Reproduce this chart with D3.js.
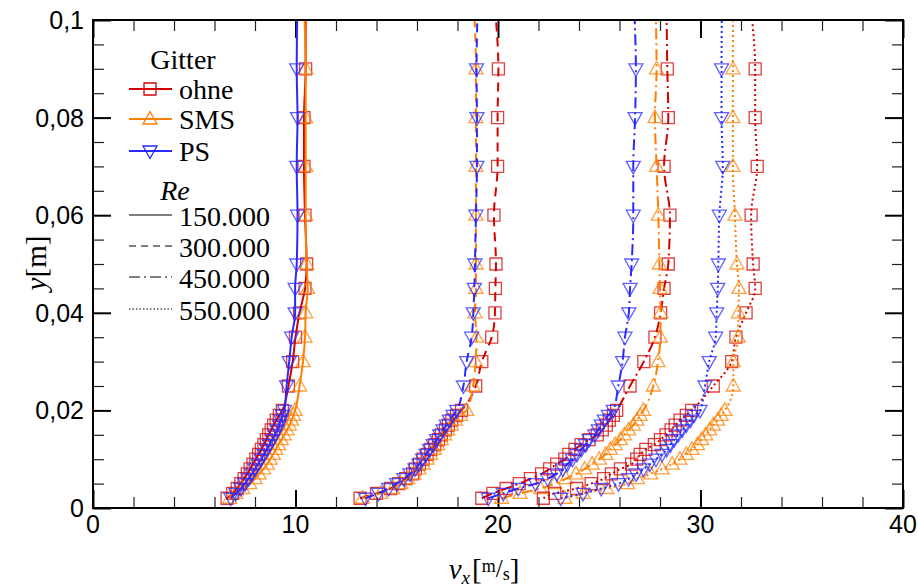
<!DOCTYPE html>
<html>
<head>
<meta charset="utf-8">
<script src="https://cdn.jsdelivr.net/npm/d3@7"></script>
<style>
  body { margin: 0; background: #fff; }
</style>
</head>
<body>
<div id="chart"></div>
<script>
// wall distance y [m] of the profile points (last point only carries the line)
const yPos = [0.002, 0.003, 0.004, 0.005, 0.006, 0.007, 0.008, 0.009, 0.010, 0.011,
  0.012, 0.013, 0.014, 0.015, 0.016, 0.017, 0.018, 0.019, 0.020,
  0.025, 0.030, 0.035, 0.040, 0.045, 0.050, 0.060, 0.070, 0.080, 0.090, 0.100];

// v_x [m/s], grid "ohne"
const ohne150 = [6.62, 6.9, 7.12, 7.3, 7.46, 7.62, 7.76, 7.9, 8.04, 8.18, 8.31, 8.44, 8.56, 8.68, 8.8, 8.92, 9.05, 9.2, 9.35,
  9.65, 9.86, 10.0, 10.2, 10.47, 10.55, 10.47, 10.42, 10.42, 10.5, 10.5];
const ohne300 = [13.19, 14.0, 14.7, 15.1, 15.45, 15.78, 15.92, 16.12, 16.3, 16.5, 16.68, 16.88, 17.06, 17.2, 17.4, 17.55, 17.72, 17.95, 18.2,
  18.9, 19.2, 19.69, 19.85, 19.87, 19.9, 19.8, 19.98, 19.98, 20.02, 19.9];
const ohne450 = [19.2, 19.75, 20.4, 21.05, 21.6, 22.15, 22.55, 22.9, 23.3, 23.5, 23.8, 24.1, 24.5, 24.9, 25.15, 25.35, 25.5, 25.7, 25.86,
  26.52, 27.2, 27.75, 28.03, 28.2, 28.41, 28.49, 28.2, 28.41, 28.36, 28.33];
const ohne550 = [22.24, 22.8, 23.88, 24.6, 25.22, 25.6, 26.05, 26.6, 26.85, 27.02, 27.3, 27.72, 28.02, 28.3, 28.55, 28.75, 28.99, 29.3, 29.56,
  30.63, 31.54, 31.75, 32.25, 32.7, 32.6, 32.5, 32.8, 32.7, 32.7, 32.55];

// grid "SMS"
const sms150 = [6.75, 7.05, 7.4, 7.74, 8.0, 8.2, 8.42, 8.6, 8.75, 8.9, 9.03, 9.16, 9.3, 9.44, 9.58, 9.7, 9.8, 9.9, 9.98,
  10.2, 10.37, 10.47, 10.5, 10.6, 10.55, 10.5, 10.5, 10.5, 10.5, 10.45];
const sms300 = [13.3, 14.2, 14.8, 15.2, 15.55, 15.85, 16.1, 16.3, 16.5, 16.68, 16.85, 17.02, 17.2, 17.36, 17.52, 17.7, 17.9, 18.15, 18.45,
  18.77, 18.9, 18.94, 18.86, 18.91, 18.91, 18.91, 18.91, 18.91, 18.91, 18.85];
const sms450 = [20.18, 21.09, 22.1, 22.8, 23.35, 23.85, 24.28, 24.65, 25.0, 25.32, 25.55, 25.78, 26.04, 26.24, 26.45, 26.68, 26.86, 27.02, 27.18,
  27.67, 27.9, 28.02, 28.03, 28.0, 27.97, 27.92, 27.83, 27.75, 27.83, 27.8];
const sms550 = [23.3, 24.21, 25.37, 26.4, 26.88, 27.54, 28.1, 28.6, 28.98, 29.3, 29.58, 29.85, 30.05, 30.25, 30.45, 30.63, 30.85, 31.02, 31.2,
  31.62, 31.62, 31.87, 31.87, 31.9, 31.8, 31.7, 31.6, 31.6, 31.6, 31.6];

// grid "PS"
const ps150 = [6.8, 7.05, 7.3, 7.5, 7.68, 7.85, 8.0, 8.15, 8.3, 8.44, 8.58, 8.72, 8.85, 8.98, 9.1, 9.2, 9.28, 9.36, 9.45,
  9.56, 9.69, 9.81, 9.98, 9.98, 10.06, 10.1, 10.06, 10.1, 10.06, 10.08];
const ps300 = [13.45, 14.1, 14.6, 15.0, 15.35, 15.65, 15.9, 16.1, 16.28, 16.45, 16.62, 16.8, 16.97, 17.12, 17.28, 17.45, 17.6, 17.78, 17.96,
  18.29, 18.45, 18.7, 18.78, 18.83, 18.86, 18.91, 18.96, 18.96, 18.94, 18.98];
const ps450 = [19.52, 20.26, 21.0, 21.85, 22.45, 22.9, 23.2, 23.42, 23.68, 23.9, 24.12, 24.32, 24.5, 24.78, 24.95, 25.1, 25.25, 25.45, 25.69,
  25.94, 26.15, 26.27, 26.46, 26.52, 26.6, 26.68, 26.68, 26.77, 26.81, 26.75];
const ps550 = [23.1, 24.2, 25.1, 25.95, 26.45, 26.82, 27.18, 27.5, 27.8, 28.1, 28.33, 28.52, 28.7, 28.9, 29.1, 29.3, 29.5, 29.68, 29.98,
  30.22, 30.43, 30.75, 30.8, 30.85, 30.88, 30.93, 31.1, 31.04, 31.04, 31.05];

// legend entries and tick labels
const grids = ["ohne", "SMS", "PS"];
const reLabels = ["150.000", "300.000", "450.000", "550.000"];
const xTicks = [0, 10, 20, 30, 40];
const yTicks = [0, 0.02, 0.04, 0.06, 0.08, 0.1];
const yTickLabels = ["0", "0,02", "0,04", "0,06", "0,08", "0,1"];

const profiles = {
  ohne: [ohne150, ohne300, ohne450, ohne550],
  SMS: [sms150, sms300, sms450, sms550],
  PS: [ps150, ps300, ps450, ps550]
};

const colors = { ohne: "#d40000", SMS: "#ff7f00", PS: "#2a2aff" };
const dashes = ["none", "9,6", "11,4,2,4", "2,3"];
const legendDashes = ["none", "7,5", "11,4,2,4", "1.5,2"];

let width = 918, height = 588;
let margin = { top: 20, bottom: 80, left: 93, right: 15 };
let w = width - margin.left - margin.right;
let h = height - margin.top - margin.bottom;

let svg = d3.select("#chart")
  .append("svg")
  .attr("width", width)
  .attr("height", height);

let x = d3.scaleLinear().domain([0, 40]).range([margin.left, margin.left + w]);
let y = d3.scaleLinear().domain([0, 0.1]).range([margin.top + h, margin.top]);

// ticks: all point inwards, minor ones first
function drawTicks() {
  let xMinor = d3.range(0, 41, 2).filter(d => d % 10 !== 0);
  let yMinor = d3.range(0, 21).map(d => d * 0.005).filter((d, i) => i % 4 !== 0);

  let sets = [
    { axis: d3.axisBottom(x), pos: `translate(0,${margin.top + h})` },
    { axis: d3.axisTop(x), pos: `translate(0,${margin.top})` }
  ];
  sets.forEach(s => {
    svg.append("g").attr("class", "minor").attr("transform", s.pos)
      .call(s.axis.tickValues(xMinor).tickSize(-11).tickFormat(""));
    svg.append("g").attr("class", "major").attr("transform", s.pos)
      .call(s.axis.tickValues(xTicks).tickSize(-18).tickFormat(""));
  });

  let ySets = [
    { axis: d3.axisLeft(y), pos: `translate(${margin.left},0)` },
    { axis: d3.axisRight(y), pos: `translate(${margin.left + w},0)` }
  ];
  ySets.forEach(s => {
    svg.append("g").attr("class", "minor").attr("transform", s.pos)
      .call(s.axis.tickValues(yMinor).tickSize(-11).tickFormat(""));
    svg.append("g").attr("class", "major").attr("transform", s.pos)
      .call(s.axis.tickValues(yTicks).tickSize(-18).tickFormat(""));
  });

  svg.selectAll(".domain").remove();
  svg.selectAll(".minor line").attr("stroke", "#222").attr("stroke-width", 1.2);
  svg.selectAll(".major line").attr("stroke", "#000").attr("stroke-width", 2);
}
drawTicks();

// tick labels
svg.append("g").selectAll("text")
  .data(xTicks)
  .join("text")
  .attr("x", d => x(d))
  .attr("y", margin.top + h + 25)
  .attr("text-anchor", "middle")
  .attr("font-family", "Liberation Sans, Arial, sans-serif")
  .attr("font-size", 25)
  .text(d => d);

svg.append("g").selectAll("text")
  .data(yTicks)
  .join("text")
  .attr("x", margin.left - 9)
  .attr("y", d => y(d) + 9)
  .attr("text-anchor", "end")
  .attr("font-family", "Liberation Sans, Arial, sans-serif")
  .attr("font-size", 25)
  .text((d, i) => yTickLabels[i]);

// profiles
let plot = svg.append("g");
let line = d3.line()
  .x(d => x(d[0]))
  .y(d => y(d[1]))
  .curve(d3.curveMonotoneY);

let squarePath = "M-6,-6L6,-6L6,6L-6,6Z";
let triUp = "M0,-7.5L7,5L-7,5Z";
let triDown = "M0,7.5L7,-5L-7,-5Z";
let markers = { ohne: squarePath, SMS: triUp, PS: triDown };

reLabels.forEach((re, r) => {
  grids.forEach(g => {
    let pts = profiles[g][r].map((v, i) => [v, yPos[i]]);
    plot.append("path")
      .datum(pts)
      .attr("fill", "none")
      .attr("stroke", colors[g])
      .attr("stroke-width", 2)
      .attr("stroke-dasharray", dashes[r])
      .attr("d", line);
    plot.append("g").selectAll("path")
      .data(pts.filter(p => p[1] < 0.095))
      .join("path")
      .attr("transform", p => `translate(${x(p[0])},${y(p[1])})`)
      .attr("d", markers[g])
      .attr("fill", "none")
      .attr("stroke", colors[g])
      .attr("stroke-opacity", 0.75)
      .attr("stroke-width", 1.3);
  });
});

// frame
svg.append("rect")
  .attr("x", margin.left)
  .attr("y", margin.top)
  .attr("width", w)
  .attr("height", h)
  .attr("fill", "none")
  .attr("stroke", "#000")
  .attr("stroke-width", 2);

// legend
let serif = "Liberation Serif, Times New Roman, serif";
let legend = svg.append("g").attr("font-family", serif).attr("font-size", 28);

legend.append("text").attr("x", 183).attr("y", 69).attr("text-anchor", "middle").text("Gitter");

grids.forEach((g, i) => {
  let ly = [89, 119, 151][i];
  legend.append("line")
    .attr("x1", 129).attr("x2", 172).attr("y1", ly).attr("y2", ly)
    .attr("stroke", colors[g]).attr("stroke-width", 2);
  legend.append("path")
    .attr("transform", `translate(150,${ly})`)
    .attr("d", markers[g])
    .attr("fill", "none")
    .attr("stroke", colors[g])
    .attr("stroke-width", 1.3);
  legend.append("text").attr("x", 179).attr("y", ly + 10).text(g);
});

legend.append("text").attr("x", 175).attr("y", 200)
  .attr("text-anchor", "middle").attr("font-style", "italic").text("Re");

reLabels.forEach((re, i) => {
  let ly = [215, 246, 277, 309][i];
  legend.append("line")
    .attr("x1", 129).attr("x2", 172).attr("y1", ly).attr("y2", ly)
    .attr("stroke", "#555").attr("stroke-width", 1.5)
    .attr("stroke-dasharray", legendDashes[i]);
  legend.append("text").attr("x", 179).attr("y", ly + 11).text(re);
});

// axis titles
let yTitle = svg.append("text")
  .attr("transform", "translate(46,263) rotate(-90)")
  .attr("text-anchor", "middle")
  .attr("font-family", serif)
  .attr("font-size", 29);
yTitle.append("tspan").attr("font-style", "italic").text("y");
yTitle.append("tspan").text("[m]");

let xTitle = svg.append("text")
  .attr("x", 484)
  .attr("y", 579)
  .attr("text-anchor", "middle")
  .attr("font-family", serif)
  .attr("font-size", 29);
xTitle.append("tspan").attr("font-style", "italic").text("v");
xTitle.append("tspan").attr("font-style", "italic").attr("font-size", 19).attr("dy", 5).text("x");
xTitle.append("tspan").attr("dy", -5).attr("dx", 2).text("[");
xTitle.append("tspan").attr("font-size", 18).attr("dy", -7).text("m");
xTitle.append("tspan").attr("font-size", 25).attr("dy", 5).text("/");
xTitle.append("tspan").attr("font-size", 18).attr("dy", 3).text("s");
xTitle.append("tspan").attr("dy", -1).text("]");
</script>
</body>
</html>
